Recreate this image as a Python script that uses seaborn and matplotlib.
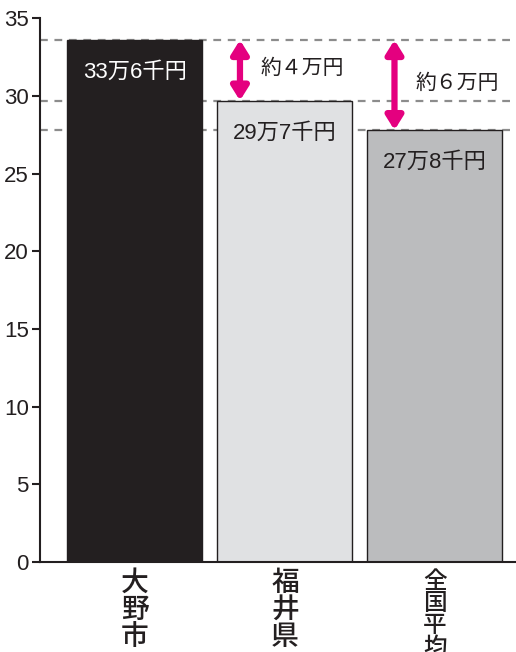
import matplotlib
matplotlib.use("Agg")
import matplotlib.pyplot as plt
import seaborn as sns
import pandas as pd

# 平均所得(万円)
areas = ["大野市", "福井県", "全国平均"]
values = [33.6, 29.7, 27.8]
value_labels = ["33万6千円", "29万7千円", "27万8千円"]
bar_colors = ["#231f20", "#e0e1e3", "#bbbcbe"]
diff_labels = ["約４万円", "約６万円"]
yticks = [0, 5, 10, 15, 20, 25, 30, 35]

sns.set_style("white")
plt.rcParams['font.family'] = ['Liberation Sans', 'Noto Sans CJK JP', 'DejaVu Sans']

df = pd.DataFrame({"area": areas, "value": values})

fig = plt.figure(figsize=(5.16, 6.52), dpi=100)
ax = fig.add_axes([0.0775, 0.138, 0.9225, 0.834])

sns.barplot(data=df, x="area", y="value", hue="area", palette=bar_colors,
            legend=False, width=0.9, saturation=1, ax=ax, zorder=2)
for i, p in enumerate(ax.patches):
    p.set_edgecolor("#231f20" if i > 0 else bar_colors[0])
    p.set_linewidth(1.0)

# 破線
for v in values:
    ax.axhline(v, color="#8c8c8c", linestyle=(0, (3.5, 3)), lw=1.6, zorder=1)

# 棒の中の数値
for i, (v, lab) in enumerate(zip(values, value_labels)):
    ax.text(i, v - 2.1, lab, ha="center", va="center", fontsize=16,
            color="white" if i == 0 else "#231f20", zorder=3)

# 差の矢印
pink = "#e4007f"
arrow_x = [0.70, 1.73]
for k, (xa, lab) in enumerate(zip(arrow_x, diff_labels)):
    ax.annotate("", xy=(xa, values[k + 1]), xytext=(xa, values[0]),
                arrowprops=dict(arrowstyle="<|-|>,head_length=0.8,head_width=0.5",
                                color=pink, lw=4.5, shrinkA=0, shrinkB=0), zorder=4)
    ax.text(xa + 0.14, (values[0] + values[k + 1]) / 2 + 0.1, lab, ha="left",
            va="center", fontsize=15, color="#231f20")

ax.set_xlim(-0.633, 2.54)
ax.set_ylim(0, 35)
ax.set_yticks(yticks)
ax.set_yticklabels([str(t) for t in yticks], fontsize=16, color="#231f20")
ax.tick_params(axis="y", direction="out", length=6, width=1.5, color="#231f20", pad=2, left=True)
ax.set_xticks([])
ax.set_xlabel("")
ax.set_ylabel("")
for s in ["top", "right"]:
    ax.spines[s].set_visible(False)
for s in ["left", "bottom"]:
    ax.spines[s].set_color("#231f20")
    ax.spines[s].set_linewidth(1.5)

# 縦書きの地域名 (4文字は詰めて表示)
for i, name in enumerate(areas):
    fs, ls = (20, 1.06) if len(name) <= 3 else (17, 1.0)
    ax.text(i, -0.55, "\n".join(name), ha="center", va="top", fontsize=fs,
            linespacing=ls, color="#231f20", fontweight="medium")

fig.savefig("out.png", dpi=100)
